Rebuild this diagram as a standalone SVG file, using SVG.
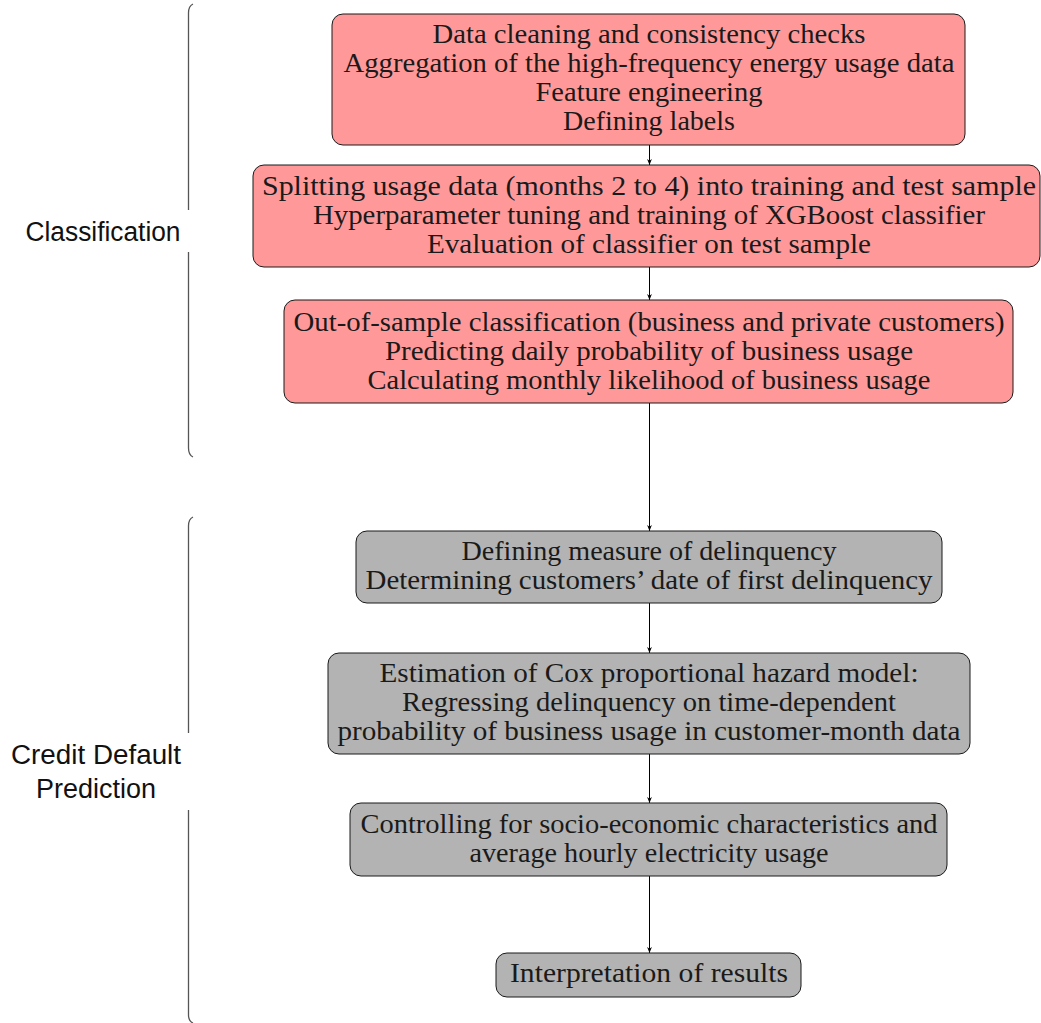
<svg xmlns="http://www.w3.org/2000/svg" width="1041" height="1023" viewBox="0 0 1041 1023">
<defs>
<marker id="ah" viewBox="0 0 10 10" refX="10" refY="5" markerWidth="6" markerHeight="6" orient="auto" markerUnits="userSpaceOnUse">
<path d="M0,1 L10,5 L0,9 L3,5 Z" fill="#000"/>
</marker>
<style>
.red{fill:#ff9999;stroke:#1a1a1a;stroke-width:1}
.gray{fill:#b3b3b3;stroke:#1a1a1a;stroke-width:1}
.t{font-family:"Liberation Serif","DejaVu Serif",serif;font-size:27px;fill:#1a1a1a;text-anchor:middle}
.s{font-family:"Liberation Sans","DejaVu Sans",sans-serif;font-size:27px;fill:#111;text-anchor:middle}
.br{fill:none;stroke:#555;stroke-width:1.3}
.c{fill:none;stroke:#000;stroke-width:1}
</style>
</defs>
<rect width="1041" height="1023" fill="#fff"/>
<g id="brace-classification">
<path class="br" d="M193,4 Q188.5,6 188.5,13 L188.5,210 M188.5,252 L188.5,448 Q188.5,455 193,457"/>
<text class="s" x="103" y="241" textLength="155" lengthAdjust="spacingAndGlyphs">Classification</text>
</g>
<g id="brace-credit">
<path class="br" d="M193,517 Q188.5,519 188.5,526 L188.5,733 M188.5,810 L188.5,1015 Q188.5,1021 193,1023"/>
<text class="s" x="96" y="764" textLength="170" lengthAdjust="spacingAndGlyphs">Credit Default</text>
<text class="s" x="96" y="798" textLength="120" lengthAdjust="spacingAndGlyphs">Prediction</text>
</g>
<g id="connectors">
<line class="c" x1="649.5" y1="145" x2="649.5" y2="165" marker-end="url(#ah)"/>
<line class="c" x1="649.5" y1="267" x2="649.5" y2="300" marker-end="url(#ah)"/>
<line class="c" x1="649.5" y1="403" x2="649.5" y2="531" marker-end="url(#ah)"/>
<line class="c" x1="649.5" y1="603" x2="649.5" y2="653" marker-end="url(#ah)"/>
<line class="c" x1="649.5" y1="754" x2="649.5" y2="803" marker-end="url(#ah)"/>
<line class="c" x1="649.5" y1="876" x2="649.5" y2="953" marker-end="url(#ah)"/>
</g>
<g id="node1">
<rect class="red" x="332" y="14" width="633" height="131" rx="11"/>
<text class="t" x="649" y="43" textLength="433" lengthAdjust="spacingAndGlyphs">Data cleaning and consistency checks</text>
<text class="t" x="649" y="72" textLength="611" lengthAdjust="spacingAndGlyphs">Aggregation of the high-frequency energy usage data</text>
<text class="t" x="649" y="101" textLength="227" lengthAdjust="spacingAndGlyphs">Feature engineering</text>
<text class="t" x="649" y="130" textLength="172" lengthAdjust="spacingAndGlyphs">Defining labels</text>
</g>
<g id="node2">
<rect class="red" x="253" y="165" width="787" height="102" rx="11"/>
<text class="t" x="649" y="195" textLength="774" lengthAdjust="spacingAndGlyphs">Splitting usage data (months 2 to 4) into training and test sample</text>
<text class="t" x="649" y="224" textLength="672" lengthAdjust="spacingAndGlyphs">Hyperparameter tuning and training of XGBoost classifier</text>
<text class="t" x="649" y="253" textLength="444" lengthAdjust="spacingAndGlyphs">Evaluation of classifier on test sample</text>
</g>
<g id="node3">
<rect class="red" x="284" y="300" width="729" height="103" rx="11"/>
<text class="t" x="649" y="331" textLength="711" lengthAdjust="spacingAndGlyphs">Out-of-sample classification (business and private customers)</text>
<text class="t" x="649" y="360" textLength="528" lengthAdjust="spacingAndGlyphs">Predicting daily probability of business usage</text>
<text class="t" x="649" y="389" textLength="563" lengthAdjust="spacingAndGlyphs">Calculating monthly likelihood of business usage</text>
</g>
<g id="node4">
<rect class="gray" x="356" y="531" width="586" height="72" rx="11"/>
<text class="t" x="649" y="560" textLength="375" lengthAdjust="spacingAndGlyphs">Defining measure of delinquency</text>
<text class="t" x="649" y="589" textLength="567" lengthAdjust="spacingAndGlyphs">Determining customers’ date of first delinquency</text>
</g>
<g id="node5">
<rect class="gray" x="328" y="653" width="642" height="101" rx="11"/>
<text class="t" x="649" y="682" textLength="539" lengthAdjust="spacingAndGlyphs">Estimation of Cox proportional hazard model:</text>
<text class="t" x="649" y="711" textLength="494" lengthAdjust="spacingAndGlyphs">Regressing delinquency on time-dependent</text>
<text class="t" x="649" y="740" textLength="623" lengthAdjust="spacingAndGlyphs">probability of business usage in customer-month data</text>
</g>
<g id="node6">
<rect class="gray" x="350" y="803" width="597" height="73" rx="11"/>
<text class="t" x="649" y="833" textLength="577" lengthAdjust="spacingAndGlyphs">Controlling for socio-economic characteristics and</text>
<text class="t" x="649" y="862" textLength="359" lengthAdjust="spacingAndGlyphs">average hourly electricity usage</text>
</g>
<g id="node7">
<rect class="gray" x="496" y="953" width="305" height="44" rx="11"/>
<text class="t" x="649" y="982" textLength="278" lengthAdjust="spacingAndGlyphs">Interpretation of results</text>
</g>
</svg>
